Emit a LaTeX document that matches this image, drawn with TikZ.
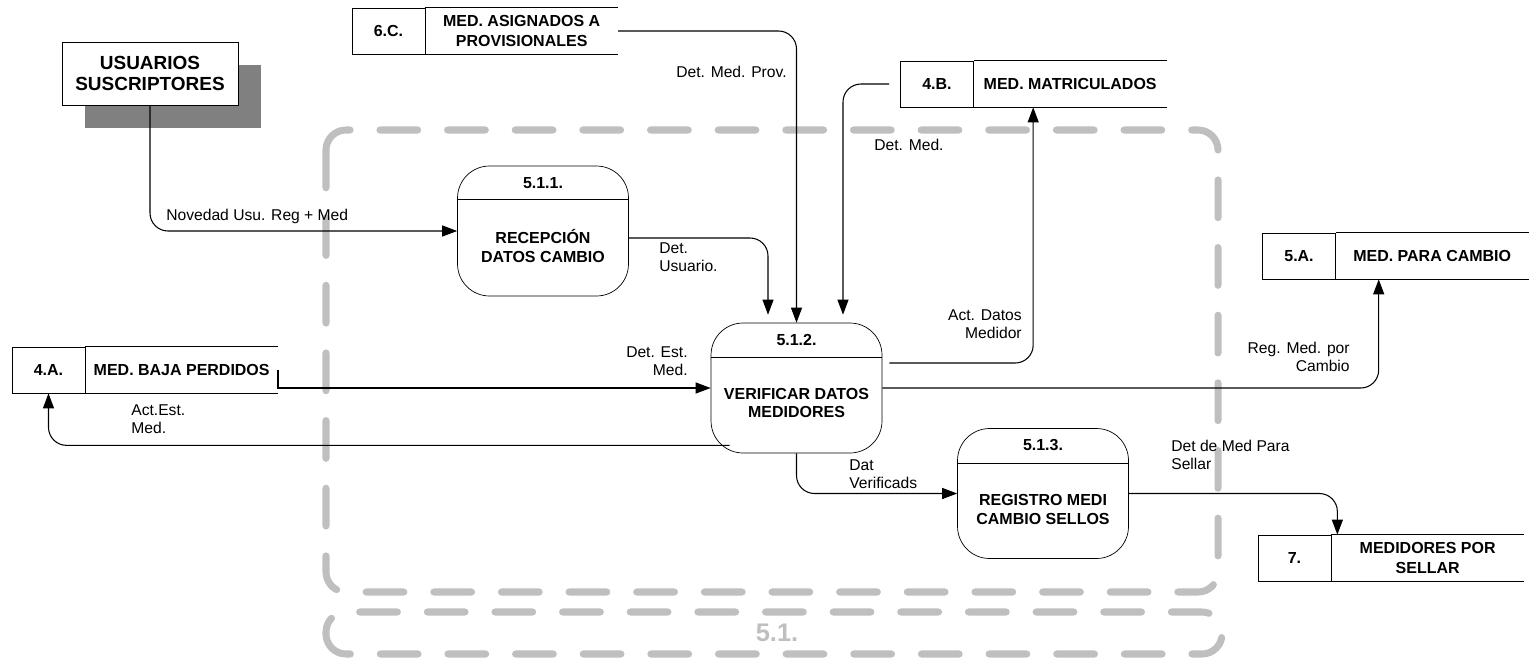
\documentclass[tikz,border=0pt]{standalone}
\usepackage{fontspec}
\setmainfont{Liberation Sans}
\usetikzlibrary{arrows.meta, positioning, shadows}

\begin{document}
\begin{tikzpicture}[
  x=0.02cm, y=-0.02cm,
  ext/.style={rectangle, draw, fill=white, minimum width=3.52cm, minimum height=1.26cm,
              align=center, font=\fontsize{10.8}{12.3}\selectfont\bfseries,
              drop shadow={shadow xshift=0.46cm, shadow yshift=-0.46cm, fill=black!50, opacity=1}},
  storeid/.style={rectangle, draw, minimum width=1.46cm, minimum height=0.92cm,
              font=\fontsize{9.1}{11}\selectfont\bfseries},
  storename/.style={rectangle, minimum width=3.84cm, minimum height=0.92cm, inner sep=1pt,
              align=center, font=\fontsize{9.1}{11.3}\selectfont\bfseries},
  proc/.style={rectangle, draw, rounded corners=0.64cm, minimum width=3.42cm, minimum height=2.6cm},
  ptitle/.style={font=\fontsize{9.1}{11}\selectfont\bfseries},
  ptext/.style={align=center, font=\fontsize{9.1}{10.8}\selectfont\bfseries},
  lbl/.style={inner sep=0pt, font=\fontsize{8.9}{10.2}\selectfont},
  flow/.style={-{Triangle[length=0.3cm, width=0.22cm]}, line width=0.6pt, rounded corners=0.36cm},
  region/.style={draw=black!25, line width=4pt, line cap=round,
              dash pattern=on 21.5pt off 17pt, rounded corners=0.4cm}
]
\useasboundingbox (0,0) rectangle (1530,663);

% process boundary 5.1
\draw[region] (326,130) rectangle (1218,592);
\draw[region] (326,612) rectangle (1222,654);
\node[font=\fontsize{14.5}{16}\selectfont\bfseries, text=black!25] (r51) at (777,633) {5.1.};

% external entity
\node[ext] (usr) at (150,73.5) {USUARIOS\\SUSCRIPTORES};

% data stores
\node[storeid] (s6c) at (388.5,31) {6.C.};
\node[storename, right=0pt of s6c] (s6cn) {MED. ASIGNADOS A\\PROVISIONALES};
\node[storeid] (s4b) at (937,84) {4.B.};
\node[storename, right=0pt of s4b] (s4bn) {MED. MATRICULADOS};
\node[storeid] (s4a) at (48.5,370) {4.A.};
\node[storename, right=0pt of s4a] (s4an) {MED. BAJA PERDIDOS};
\node[storeid] (s5a) at (1299,256) {5.A.};
\node[storename, right=0pt of s5a] (s5an) {MED. PARA CAMBIO};
\node[storeid] (s7) at (1294.5,558) {7.};
\node[storename, right=0pt of s7] (s7n) {MEDIDORES POR\\SELLAR};
\foreach \s in {s6cn, s4bn, s4an, s5an, s7n}
  \draw (\s.north west) -- (\s.north east) (\s.south west) -- (\s.south east);

% processes
\node[proc] (p511) at (543,231) {};
\node[ptitle] (p511id) at ([yshift=-0.34cm]p511.north) {5.1.1.};
\node[ptext] (p511t) at ([yshift=-0.3cm]p511.center) {RECEPCIÓN\\DATOS CAMBIO};
\draw ([yshift=-0.68cm]p511.north west) -- ([yshift=-0.68cm]p511.north east);

\node[proc] (p512) at (796.5,388) {};
\node[ptitle] (p512id) at ([yshift=-0.34cm]p512.north) {5.1.2.};
\node[ptext] (p512t) at ([yshift=-0.3cm]p512.center) {VERIFICAR DATOS\\MEDIDORES};
\draw ([yshift=-0.7cm]p512.north west) -- ([yshift=-0.7cm]p512.north east);

\node[proc] (p513) at (1043,493.5) {};
\node[ptitle] (p513id) at ([yshift=-0.34cm]p513.north) {5.1.3.};
\node[ptext] (p513t) at ([yshift=-0.32cm]p513.center) {REGISTRO MEDI\\CAMBIO SELLOS};
\draw ([yshift=-0.7cm]p513.north west) -- ([yshift=-0.7cm]p513.north east);

% flows
\draw[flow] (usr.south) |- (p511.west);
\draw[flow] (s6cn.east) -| (p512.north);
\draw[flow, shorten <=0.22cm] (s4b.west) -| ([xshift=0.93cm, yshift=0.16cm]p512.north);
\draw[flow] ([yshift=-0.14cm]p511.east) -| ([xshift=-0.57cm, yshift=0.16cm]p512.north);
\draw[flow, shorten <=0.14cm] ([yshift=0.5cm]p512.east) -| ([xshift=-0.74cm]s4bn.south);
\draw[flow, sharp corners] (s4an.east) |- (p512.west);
\draw[flow] ([xshift=0.38cm, yshift=0.16cm]p512.south west) -| (s4a.south);
\draw[flow] (p512.east) -| ([xshift=-1.07cm]s5an.south);
\draw[flow] (p512.south) |- (p513.west);
\draw[flow] (p513.east) -| ([xshift=0.12cm]s7n.north west);

% flow labels
\node[lbl, anchor=west] (lnov) at (166,216) {Novedad Usu. Reg + Med};
\node[lbl, anchor=east] (lprov) at (787,72) {Det. Med. Prov.};
\node[lbl, anchor=west] (ldetmed) at (874,145) {Det. Med.};
\node[lbl, anchor=west, align=left] (lusu) at (659,257) {Det.\\Usuario.};
\node[lbl, anchor=east, align=right] (lact) at (1022,324) {Act. Datos\\Medidor};
\node[lbl, anchor=east, align=right] (lest) at (688,361) {Det. Est.\\Med.};
\node[lbl, anchor=west, align=left] (lactest) at (131,419) {Act.Est.\\Med.};
\node[lbl, anchor=east, align=right] (lreg) at (1350,357) {Reg. Med. por\\Cambio};
\node[lbl, anchor=west, align=left] (ldat) at (849,474) {Dat\\Verificads};
\node[lbl, anchor=west, align=left] (lsellar) at (1171,455) {Det de Med Para\\Sellar};

\end{tikzpicture}
\end{document}
